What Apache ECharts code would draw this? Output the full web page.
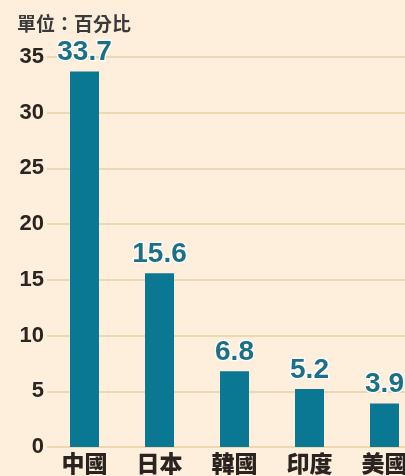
<!DOCTYPE html>
<html><head><meta charset="utf-8">
<script src="https://cdn.jsdelivr.net/npm/echarts@6/dist/echarts.min.js"></script>
<style>html,body{margin:0;padding:0;background:#fdefdc;}#c{width:405px;height:476px;}</style>
</head><body><div id="c"></div>
<script>
const categories = ['中國','日本','韓國','印度','美國'];
const values = [33.7, 15.6, 6.8, 5.2, 3.9];
const unitLabel = '單位：百分比';
const yTicks = [0,5,10,15,20,25,30,35];

const chart = echarts.init(document.getElementById('c'));
chart.setOption({
  backgroundColor: '#fdefdc',
  animation: false,
  title: { text: unitLabel, left: 12, top: 9, textStyle: { fontSize: 19, fontWeight: 'bold', color: '#3a3a3a', fontFamily: 'Noto Sans CJK TC' } },
  grid: { left: 47, top: 57, width: 375, height: 390, outerBoundsMode: 'none', containLabel: false },
  xAxis: {
    type: 'category', data: categories,
    axisLine: { show: false }, axisTick: { show: false },
    axisLabel: { fontSize: 23, fontWeight: 900, color: '#2a2320', fontFamily: 'Noto Sans CJK TC', margin: 5 }
  },
  yAxis: {
    type: 'value', min: 0, max: 35, interval: 5,
    axisLabel: { fontSize: 22, fontWeight: 'bold', color: '#2b2420', fontFamily: 'Liberation Sans', margin: 3, formatter: v => yTicks.includes(v) ? String(v) : '' },
    splitLine: { lineStyle: { color: '#e6d0a6', width: 1.5 } }
  },
  series: [{
    type: 'bar', data: values, barWidth: 29,
    itemStyle: { color: '#0b7893' },
    label: { show: true, position: 'top', distance: 5, fontSize: 28, fontWeight: 'bold', color: '#1b7087', fontFamily: 'Liberation Sans', textBorderColor: '#ffffff', textBorderWidth: 2.5 }
  }]
});
</script></body></html>
